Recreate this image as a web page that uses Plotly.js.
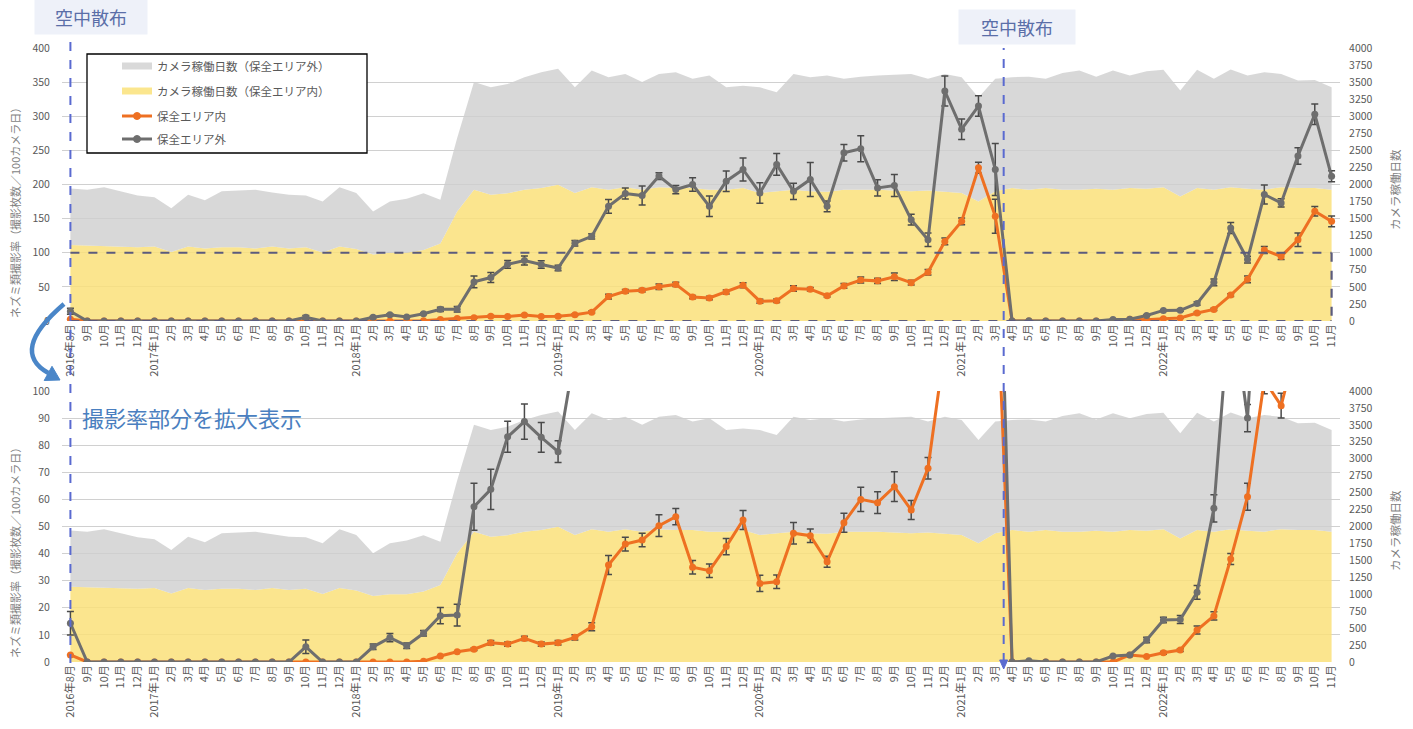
<!DOCTYPE html>
<html><head><meta charset="utf-8">
<script src="https://cdn.plot.ly/plotly-3.0.1.min.js"></script>
<style>html,body{margin:0;padding:0;background:#fff}#chart{width:1413px;height:729px}</style>
</head><body><div id="chart"></div>
<script>
// ---- data ----
const months = [
 "2016年8月","9月","10月","11月","12月",
 "2017年1月","2月","3月","4月","5月","6月","7月","8月","9月","10月","11月","12月",
 "2018年1月","2月","3月","4月","5月","6月","7月","8月","9月","10月","11月","12月",
 "2019年1月","2月","3月","4月","5月","6月","7月","8月","9月","10月","11月","12月",
 "2020年1月","2月","3月","4月","5月","6月","7月","8月","9月","10月","11月","12月",
 "2021年1月","2月","3月","4月","5月","6月","7月","8月","9月","10月","11月","12月",
 "2022年1月","2月","3月","4月","5月","6月","7月","8月","9月","10月","11月"
];
// 撮影率（保全エリア外）
const outsideRate = [
 14.3,0,0,0,0,
 0,0,0,0,0,0,0,0,0,5.6,0,0,
 0,5.6,9.0,6.0,10.6,17.1,17.3,57.3,63.7,83.1,88.7,82.9,
 77.6,114,124,168,186.8,183.8,212.3,192.6,200,168,204.9,222,
 187.7,229.4,190,207.4,168,246.6,252.4,195,198.5,148.5,119,337,
 281,315,222,0,0.5,0,0,0,0,2.2,2.6,8.1,
 15.5,15.7,25.7,56.7,136.3,90,185.3,173,241.7,303,212
];
const outsideErr = [
 4.3,0,0,0,0,
 0,0,0,0,0,0,0,0,0,2.5,0,0,
 0,1,1.5,1,1,3,4,8.7,7.4,5.7,6.5,5.5,
 4,4,4,10,8,14,5,6,10,15,15,17,
 15,16,12,25,8,12,19,12,16,8,10,22,
 15,15,38,0,0,0,0,0,0,0,0,1,
 1,1.5,2.5,5,8,5,14,6,12,15,8
];
// 撮影率（保全エリア内）
const insideRate = [
 2.6,0,0,0,0,
 0,0,0,0,0,0,0,0,0,0,0,0,
 0,0,0,0,0.3,2.2,3.8,4.7,7.1,6.6,8.7,6.6,
 7.1,9.1,13.0,35.8,43.5,45.0,50.3,53.6,35,33.7,42.6,52.4,
 29.0,29.6,47.5,46.6,37.0,51.4,60.0,58.8,64.7,56.1,71.5,116.6,
 146,224.5,153.4,0,0,0,0,0,0,0,2.6,2.0,
 3.4,4.4,11.8,17.0,38,61,104,94.6,119,160.8,146
];
const insideErr = [
 0,0,0,0,0,
 0,0,0,0,0,0,0,0,0,0,0,0,
 0,0,0,0,0,0,0,0.5,0.8,0.8,0.8,0.8,
 0.8,1,1.5,3.5,2.5,2.5,4,3,2.5,2.5,3,3.5,
 3,2.5,4,2.5,2,3.5,4.5,4,5.5,3.5,4,5,
 5,8,25,0,0,0,0,0,0,0,0,0,
 0.5,0.5,1.5,1.5,2,5,5,4.6,10,7,8
];
// カメラ稼働日数（保全エリア外）
const outsideDays = [
 1940,1924,1960,1900,1840,
 1812,1652,1848,1768,1900,1912,1924,1884,1848,1840,1752,1960,
 1876,1604,1752,1792,1872,1776,2680,3500,3424,3472,3572,3644,
 3696,3424,3672,3572,3620,3500,3620,3644,3548,3596,3424,3448,
 3424,3352,3620,3572,3596,3548,3580,3596,3608,3620,3548,3620,
 3572,3276,3548,3572,3580,3548,3632,3672,3580,3672,3596,3660,
 3680,3376,3680,3548,3684,3596,3644,3620,3524,3532,3424
];
// カメラ稼働日数（保全エリア内）
const insideDays = [
 1112,1104,1092,1092,1080,
 1092,1012,1092,1064,1080,1080,1064,1092,1064,1080,1004,1092,
 1056,976,1000,1000,1040,1136,1604,1924,1848,1872,1924,1948,
 1996,1876,1960,1924,1960,1924,1960,1948,1948,1924,1924,1948,
 1876,1900,1924,1900,1892,1924,1924,1924,1912,1900,1912,1892,
 1876,1752,1900,1948,1924,1948,1924,1924,1936,1924,1948,1936,
 1960,1824,1948,1924,1960,1936,1924,1960,1948,1948,1924
];
const legendLabels = ["カメラ稼働日数（保全エリア外）","カメラ稼働日数（保全エリア内）","保全エリア内","保全エリア外"];
const sprayMonths = [0, 55.5];

// ---- geometry helpers ----
const W=1413,H=729,L=62,R=73,T=48,B=67;
const PW=W-L-R, PH=H-T-B;
const px = x => (x-L)/PW;
const py = y => (H-B-y)/PH;
const FONT = '"Noto Sans CJK JP", "Noto Sans", sans-serif';
const idx = months.map((_, i) => i);

const C_GRAY_AREA = 'rgba(206,206,206,0.8)';
const C_YEL_AREA = 'rgba(250,225,122,0.85)';
const C_ORANGE = '#ee7022';
const C_GRAYLINE = '#6e6e6e';
const C_ERR = '#4a4a4a';

function areaTraces(xa, ya){
  return [
    {x: idx, y: insideDays, xaxis: xa, yaxis: ya, type:'scatter', mode:'lines',
     line:{width:0, color:C_YEL_AREA}, fill:'tozeroy', fillcolor:C_YEL_AREA,
     name: legendLabels[1], showlegend:false, hoverinfo:'skip'},
    {x: idx, y: outsideDays, xaxis: xa, yaxis: ya, type:'scatter', mode:'lines',
     line:{width:0, color:C_GRAY_AREA}, fill:'tonexty', fillcolor:C_GRAY_AREA,
     name: legendLabels[0], showlegend:false, hoverinfo:'skip'}
  ];
}
function lineTraces(xa, ya){
  return [
    {x: idx, y: insideRate, xaxis: xa, yaxis: ya, type:'scatter', mode:'lines+markers',
     line:{width:3, color:C_ORANGE}, marker:{size:7, color:C_ORANGE},
     error_y:{type:'data', array: insideErr, visible:true, color:C_ERR, thickness:1.5, width:3.5},
     name: legendLabels[2], showlegend:false},
    {x: idx, y: outsideRate, xaxis: xa, yaxis: ya, type:'scatter', mode:'lines+markers',
     line:{width:3, color:C_GRAYLINE}, marker:{size:7, color:C_GRAYLINE},
     error_y:{type:'data', array: outsideErr, visible:true, color:C_ERR, thickness:1.5, width:3.5},
     name: legendLabels[3], showlegend:false}
  ];
}

const data = [
  ...areaTraces('x','y'), ...lineTraces('x','y2'),
  ...areaTraces('x2','y3'), ...lineTraces('x2','y4')
];

const tickFont = {family: FONT, size: 10.5, color:'#595959'};
const xBase = {range:[-0.5,75.5], tickmode:'array', tickvals: idx, ticktext: months,
  tickangle:-90, tickfont:{family: FONT, size:11, color:'#595959'}, showgrid:false,
  zeroline:false, showline:false, ticks:'', fixedrange:true};
const rightBase = {side:'right', range:[0,4000], dtick:250, tick0:0, showgrid:false,
  zeroline:false, showline:false, ticks:'outside', ticklen:6, tickcolor:'rgba(0,0,0,0)', tickfont: tickFont};
const leftBase = {side:'left', showgrid:true, gridcolor:'#d0d0d0', gridwidth:1,
  zeroline:false, showline:false, ticks:'outside', ticklen:9, tickcolor:'rgba(0,0,0,0)', tickfont: tickFont};

const topDom = [py(321), 1];
const botDom = [0, py(391)];

// ---- shapes ----
const shapes = [];
const dashC = '#5b5b7d';
shapes.push({type:'line', xref:'x', yref:'y2', x0:0, x1:75, y0:100, y1:100, line:{color:dashC, width:2.2, dash:'dash'}});
shapes.push({type:'line', xref:'x', yref:'y2', x0:75, x1:75, y0:100, y1:0, line:{color:dashC, width:2.2, dash:'dash'}});
shapes.push({type:'line', xref:'x', yref:'y2', x0:0, x1:75, y0:0, y1:0, line:{color:dashC, width:2.2, dash:'dash'}});
const blueDash = '#5a6ad0';
shapes.push({type:'line', xref:'x', yref:'paper', x0:sprayMonths[0], x1:sprayMonths[0], y0:py(663), y1:py(32), line:{color:blueDash, width:2, dash:'dash'}});
shapes.push({type:'line', xref:'x', yref:'paper', x0:sprayMonths[1], x1:sprayMonths[1], y0:py(662), y1:py(48), line:{color:blueDash, width:2, dash:'dash'}});
{
  const xa = L + (sprayMonths[1]+0.5)*PW/76;
  const p = (x,y) => px(x).toFixed(5)+','+py(y).toFixed(5);
  shapes.push({type:'path', xref:'paper', yref:'paper', path:`M${p(xa-4,660)} L${p(xa+4,660)} L${p(xa,669)} Z`, fillcolor:blueDash, line:{color:blueDash, width:1}});
}
{
  const p = (x,y) => px(x).toFixed(5)+','+py(y).toFixed(5);
  const blue = '#4a86c8';
  shapes.push({type:'path', xref:'paper', yref:'paper', path:`M${p(64,304)} Q${p(9,351)} ${p(48.3,373)}`, line:{color:blue, width:4.5}});
  shapes.push({type:'path', xref:'paper', yref:'paper', path:`M${p(44.2,380.5)} L${p(52.0,366.3)} L${p(60,380)} Z`, fillcolor:blue, line:{color:blue, width:1}});
}
shapes.push({type:'rect', xref:'paper', yref:'paper', x0:px(87), x1:px(367), y0:py(54), y1:py(153), fillcolor:'#ffffff', line:{color:'#000000', width:1.3}});
const legY = [66, 91, 116, 139];
const legColors = ['#d9d9d9', '#fbe68e', C_ORANGE, C_GRAYLINE];
const legWidth = [7, 7, 3, 3];
legY.forEach((yy,i)=>{
  shapes.push({type:'line', xref:'paper', yref:'paper', x0:px(122), x1:px(152), y0:py(yy), y1:py(yy), line:{color:legColors[i], width:legWidth[i]}});
  if (i>=2) shapes.push({type:'circle', xref:'paper', yref:'paper', x0:px(133.5), x1:px(140.5), y0:py(yy-3.5), y1:py(yy+3.5), fillcolor:legColors[i], line:{color:legColors[i], width:1}});
});

// ---- annotations ----
const annotations = [];
legY.forEach((yy,i)=>{
  annotations.push({xref:'paper', yref:'paper', x:px(155), y:py(yy), xanchor:'left', yanchor:'middle', showarrow:false,
    text: legendLabels[i], font:{family:FONT, size:11.5, color:'#595959'}});
});
annotations.push({xref:'paper', yref:'paper', x:px(91), y:py(17), xanchor:'center', yanchor:'middle', showarrow:false,
  text:'空中散布', font:{family:FONT, size:18, color:'#5a6ea8'}, bgcolor:'#eef1f9', width:110, height:32});
annotations.push({xref:'paper', yref:'paper', x:px(1017), y:py(27), xanchor:'center', yanchor:'middle', showarrow:false,
  text:'空中散布', font:{family:FONT, size:18, color:'#5a6ea8'}, bgcolor:'#eef1f9', width:114, height:32});
annotations.push({xref:'paper', yref:'paper', x:px(80), y:py(417), xanchor:'left', yanchor:'middle', showarrow:false,
  text:'撮影率部分を拡大表示', font:{family:FONT, size:22, color:'#4a7fc0'}});
const yTitle = 'ネズミ類撮影率（撮影枚数／100カメラ日）';
const y2Title = 'カメラ稼働日数';
annotations.push({xref:'paper', yref:'paper', x:px(15), y:py(210), xanchor:'center', yanchor:'middle', showarrow:false, textangle:-90,
  text:yTitle, font:{family:FONT, size:11, color:'#7f7f7f'}});
annotations.push({xref:'paper', yref:'paper', x:px(15), y:py(550), xanchor:'center', yanchor:'middle', showarrow:false, textangle:-90,
  text:yTitle, font:{family:FONT, size:11, color:'#7f7f7f'}});
annotations.push({xref:'paper', yref:'paper', x:px(1395), y:py(190), xanchor:'center', yanchor:'middle', showarrow:false, textangle:-90,
  text:y2Title, font:{family:FONT, size:11.5, color:'#7f7f7f'}});
annotations.push({xref:'paper', yref:'paper', x:px(1395), y:py(531), xanchor:'center', yanchor:'middle', showarrow:false, textangle:-90,
  text:y2Title, font:{family:FONT, size:11.5, color:'#7f7f7f'}});

const layout = {
  width:W, height:H, margin:{l:L, r:R, t:T, b:B, pad:0},
  paper_bgcolor:'#ffffff', plot_bgcolor:'rgba(0,0,0,0)', showlegend:false,
  font:{family:FONT, color:'#595959'},
  xaxis: Object.assign({}, xBase, {domain:[0,1], anchor:'y'}),
  yaxis: Object.assign({}, rightBase, {domain:topDom, anchor:'x'}),
  yaxis2: Object.assign({}, leftBase, {overlaying:'y', anchor:'x', range:[0,400], dtick:50, tick0:0}),
  xaxis2: Object.assign({}, xBase, {domain:[0,1], anchor:'y3'}),
  yaxis3: Object.assign({}, rightBase, {domain:botDom, anchor:'x2'}),
  yaxis4: Object.assign({}, leftBase, {overlaying:'y3', anchor:'x2', range:[0,100], dtick:10, tick0:0}),
  shapes, annotations
};

Plotly.newPlot('chart', data, layout, {staticPlot:true, displayModeBar:false});
</script>
</body></html>
